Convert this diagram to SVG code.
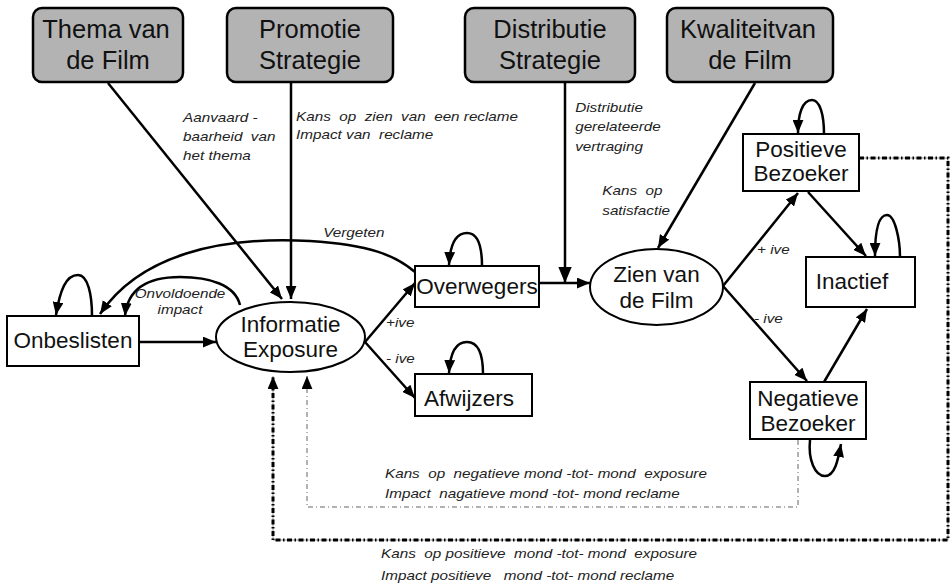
<svg xmlns="http://www.w3.org/2000/svg" width="952" height="587" viewBox="0 0 952 587">
<style>
.top{fill:#b3b3b3;stroke:#000;stroke-width:2.5}
.box{fill:#fff;stroke:#000;stroke-width:2}
.t1{font-family:"Liberation Sans",Arial,sans-serif;font-size:25.5px;fill:#111;text-anchor:middle;white-space:pre}
.t2{font-family:"Liberation Sans",Arial,sans-serif;font-size:22.5px;fill:#111;text-anchor:middle}
.lb{font-family:"Liberation Sans",Arial,sans-serif;font-size:13.5px;font-style:italic;fill:#222;white-space:pre}
.c{fill:none;stroke:#000;stroke-width:2.5}
.loop{fill:none;stroke:#000;stroke-width:2.5}
</style>
<defs>
<marker id="ah" viewBox="0 0 12 10" refX="12" refY="5" markerWidth="13" markerHeight="11" orient="auto" markerUnits="userSpaceOnUse"><path d="M0,0 L12,5 L0,10 z" fill="#000"/></marker>
<marker id="ahb" viewBox="0 0 12 10" refX="12" refY="5" markerWidth="16" markerHeight="14" orient="auto" markerUnits="userSpaceOnUse"><path d="M0,0 L12,5 L0,10 z" fill="#000"/></marker>
</defs>

<g id="thema"><rect class="top" x="33" y="8" width="150" height="74" rx="9"/><text class="t1" x="106" y="38">Thema van</text><text class="t1" x="108" y="69">de Film</text></g>
<g id="promotie"><rect class="top" x="227" y="8" width="166" height="74" rx="9"/><text class="t1" x="310" y="38">Promotie</text><text class="t1" x="310" y="69">Strategie</text></g>
<g id="distributie"><rect class="top" x="465" y="8" width="170" height="74" rx="9"/><text class="t1" x="550" y="38">Distributie</text><text class="t1" x="550" y="69">Strategie</text></g>
<g id="kwaliteit"><rect class="top" x="667" y="8" width="166" height="74" rx="9"/><text class="t1" x="748" y="38">Kwaliteitvan</text><text class="t1" x="750" y="69">de Film</text></g>

<g id="onbeslisten"><rect class="box" x="7" y="316" width="132" height="50"/><text class="t2" x="73" y="348">Onbeslisten</text></g>
<g id="informatie"><ellipse class="box" cx="290.5" cy="337" rx="74.5" ry="35"/><text class="t2" x="290.5" y="332">Informatie</text><text class="t2" x="290.5" y="357">Exposure</text></g>
<g id="overwegers"><rect class="box" x="415" y="266" width="124" height="41"/><text class="t2" x="477" y="294">Overwegers</text></g>
<g id="afwijzers"><rect class="box" x="415" y="374" width="117" height="42"/><text class="t2" x="469" y="406">Afwijzers</text></g>
<g id="zien"><ellipse class="box" cx="656.5" cy="287" rx="66.5" ry="38"/><text class="t2" x="656.5" y="282">Zien van</text><text class="t2" x="656.5" y="308">de Film</text></g>
<g id="positieve"><rect class="box" x="743" y="134" width="116" height="57"/><text class="t2" x="801" y="157">Positieve</text><text class="t2" x="801" y="181">Bezoeker</text></g>
<g id="inactief"><rect class="box" x="806" y="257" width="109" height="50"/><text class="t2" x="852" y="289">Inactief</text></g>
<g id="negatieve"><rect class="box" x="750" y="382" width="116" height="57"/><text class="t2" x="808" y="406">Negatieve</text><text class="t2" x="808" y="431">Bezoeker</text></g>

<g id="connectors">
<path class="c" d="M108,83 L282,299" marker-end="url(#ah)"/>
<path class="c" d="M291,82 L291,299" marker-end="url(#ah)"/>
<path class="c" d="M565,82 L565,283" stroke-width="4.5" marker-end="url(#ahb)"/>
<path class="c" d="M755,83 L658,248" marker-end="url(#ah)"/>
<path class="c" d="M139,342 L216,342" marker-end="url(#ah)"/>
<path class="c" d="M365,342 L415,283" marker-end="url(#ah)"/>
<path class="c" d="M365,342 L415,398" marker-end="url(#ah)"/>
<path class="c" d="M539,283 L590,283" marker-end="url(#ah)"/>
<path class="c" d="M723,286 L798,193" marker-end="url(#ah)"/>
<path class="c" d="M723,286 L807,381" marker-end="url(#ah)"/>
<path class="c" d="M808,192 L866,256" marker-end="url(#ah)"/>
<path class="c" d="M824,382 L867,309" marker-end="url(#ah)"/>

<path class="loop" d="M92,316 C92,295 88,275 78,275 C66,275 60,290 56,315" marker-end="url(#ah)"/>
<path class="loop" d="M240,305 C235,285 210,277 180,277 C140,277 127,295 125,316" marker-end="url(#ah)"/>
<path class="loop" d="M415,272 C395,255 370,245 310,241 C220,236 140,255 100,314" marker-end="url(#ah)"/>
<path class="loop" d="M482,266 C482,245 478,233 467,233 C455,233 450,245 449,265" marker-end="url(#ah)"/>
<path class="loop" d="M483,374 C483,353 478,342 467,342 C455,342 450,354 449,373" marker-end="url(#ah)"/>
<path class="loop" d="M824,134 C824,115 820,100 812,100 C802,100 798,115 798,133" marker-end="url(#ah)"/>
<path class="loop" d="M900,257 C900,240 895,215 887,215 C877,215 875,235 875,256" marker-end="url(#ah)"/>
<path class="loop" d="M810,440 C808,460 815,476 825,476 C835,476 838,460 841,444" marker-end="url(#ah)"/>

<path d="M859,158 H948 V540 H273 V380" fill="none" stroke="#999" stroke-width="1"/>
<path d="M859,158 H948 V540 H273 V376" fill="none" stroke="#000" stroke-width="3" stroke-dasharray="5,2.5,1.5,2.5" marker-end="url(#ah)"/>
<path d="M798,440 V507 H307 V376" fill="none" stroke="#666" stroke-width="1" stroke-dasharray="5,3,1,3" marker-end="url(#ah)"/>
</g>

<g id="labels" transform="scale(1.13,1)">
<text class="lb" x="162" y="122">Aanvaard -</text>
<text class="lb" x="162" y="141">baarheid  van</text>
<text class="lb" x="162" y="160">het thema</text>
<text class="lb" x="262" y="121">Kans  op  zien  van  een reclame</text>
<text class="lb" x="262" y="139">Impact van  reclame</text>
<text class="lb" x="509" y="112">Distributie</text>
<text class="lb" x="509" y="131">gerelateerde</text>
<text class="lb" x="509" y="151">vertraging</text>
<text class="lb" x="533" y="195">Kans  op</text>
<text class="lb" x="533" y="215">satisfactie</text>
<text class="lb" x="286" y="237">Vergeten</text>
<text class="lb" x="159.3" y="298" text-anchor="middle">Onvoldoende</text>
<text class="lb" x="159.3" y="314" text-anchor="middle">impact</text>
<text class="lb" x="341.6" y="327">+ive</text>
<text class="lb" x="341.6" y="363">- ive</text>
<text class="lb" x="670" y="254">+ ive</text>
<text class="lb" x="667.3" y="323">- ive</text>
<text class="lb" x="340.7" y="478">Kans  op  negatieve mond -tot- mond  exposure</text>
<text class="lb" x="340.7" y="498">Impact  nagatieve mond -tot- mond reclame</text>
<text class="lb" x="337.2" y="558">Kans  op positieve  mond -tot- mond  exposure</text>
<text class="lb" x="337.2" y="580">Impact positieve   mond -tot- mond reclame</text>
</g>
</svg>
